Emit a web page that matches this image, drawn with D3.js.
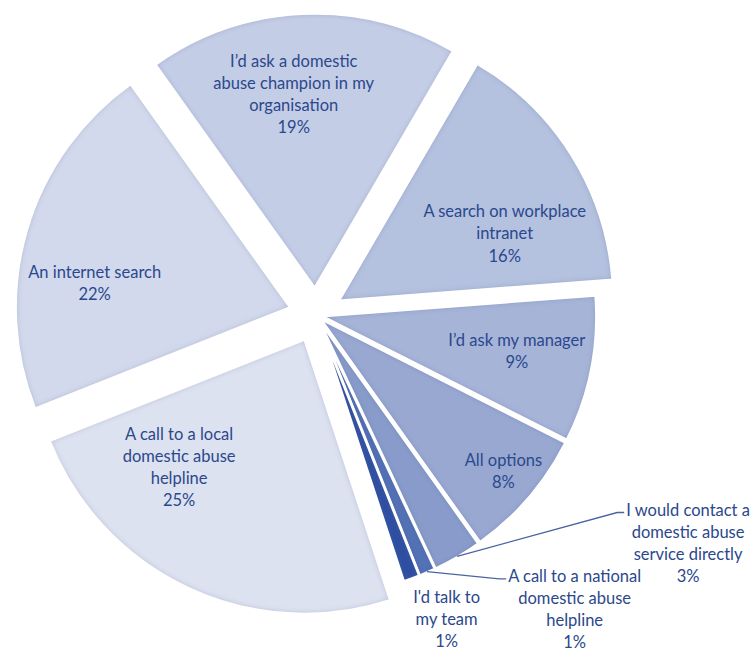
<!DOCTYPE html>
<html>
<head>
<meta charset="utf-8">
<script src="https://cdn.jsdelivr.net/npm/d3@7"></script>
<style>
  html, body { margin: 0; padding: 0; background: #ffffff; }
  svg { display: block; }
  text { font-family: Lato, "Open Sans", sans-serif; fill: #2b488c; }
</style>
</head>
<body>
<svg id="chart" width="751" height="652"></svg>
<script>
// Where people would look for help (share of responses, %)
const categories = [
  "A call to a local domestic abuse helpline",
  "An internet search",
  "I'd ask a domestic abuse champion in my organisation",
  "A search on workplace intranet",
  "I'd ask my manager",
  "All options",
  "I would contact a domestic abuse service directly",
  "A call to a national domestic abuse helpline",
  "I'd talk to my team"
];
const values = [25, 22, 19, 16, 9, 8, 3, 1, 1];
const labelLines = [
  ["A call to a local", "domestic abuse", "helpline"],
  ["An internet search"],
  ["I\u2019d ask a domestic", "abuse champion in my", "organisation"],
  ["A search on workplace", "intranet"],
  ["I\u2019d ask my manager"],
  ["All options"],
  ["I would contact a", "domestic abuse", "service directly"],
  ["A call to a national", "domestic abuse", "helpline"],
  ["I'd talk to", "my team"]
];

// Monochrome blue shades, lightest for the largest slice
const colors = ["#dde2f0", "#d2d9ec", "#c4cde6", "#b4c1df", "#a6b4d8", "#98a8d1", "#889bca", "#5371b6", "#2d4fa1"];

// Layout
const cx = 316, cy = 315, R = 274.5;
const explode = [27, 27, 27, 27, 6, 6, 6, 6, 6];
// label anchor: [distance from slice apex, angle in degrees]
const labelPolar = [
  [179, 224.5], [197, 277.2], [195, -6.2], [179, 67.9], [198, 100.1],
  [238, 129.8], [431, 121.1], [386, 138.4], [325, 156.7]
];
const withLeader = [false, false, false, false, false, false, true, true, false];
const lineH = 22.2;

const svg = d3.select("#chart");
const defs = svg.append("defs");
const f = defs.append("filter").attr("id", "innerShade")
  .attr("x", "-10%").attr("y", "-10%").attr("width", "120%").attr("height", "120%");
f.append("feFlood").attr("flood-color", "#425b9b").attr("result", "c");
f.append("feComposite").attr("in", "c").attr("in2", "SourceAlpha").attr("operator", "out").attr("result", "inv");
f.append("feGaussianBlur").attr("in", "inv").attr("stdDeviation", 3).attr("result", "blur");
f.append("feComposite").attr("in", "blur").attr("in2", "SourceAlpha").attr("operator", "in").attr("result", "sh");
f.append("feComponentTransfer").attr("in", "sh").attr("result", "shf")
  .append("feFuncA").attr("type", "linear").attr("slope", 0.5);
const m = f.append("feMerge");
m.append("feMergeNode").attr("in", "SourceGraphic");
m.append("feMergeNode").attr("in", "shf");

const rad = Math.PI / 180;
const startDeg = 161.8;
const pie = d3.pie().sort(null).value(d => d)
  .startAngle(startDeg * rad).endAngle((startDeg + 360) * rad);
const arcs = pie(values);
const arc = d3.arc().innerRadius(0).outerRadius(R);

const g = svg.append("g").attr("transform", `translate(${cx},${cy})`);

arcs.forEach((a, i) => {
  const mid = (a.startAngle + a.endAngle) / 2;
  const ox = explode[i] * Math.sin(mid), oy = -explode[i] * Math.cos(mid);
  const sg = g.append("g").attr("transform", `translate(${ox},${oy})`);
  sg.append("path").attr("d", arc(a)).attr("fill", colors[i]).attr("filter", "url(#innerShade)");
  sg.append("path").attr("d", arc(a)).attr("fill", "none")
    .attr("stroke", "#ffffff").attr("stroke-width", 2.6).attr("stroke-linejoin", "round");

  // data label
  const [dist, angDeg] = labelPolar[i];
  const lx = ox + dist * Math.sin(angDeg * rad);
  const ly = oy - dist * Math.cos(angDeg * rad);
  const lines = labelLines[i].concat([values[i] + "%"]);
  const y0 = ly - (lines.length - 1) / 2 * lineH;
  const t = g.append("text").attr("text-anchor", "middle").attr("font-size", 16.5);
  lines.forEach((s, k) => {
    t.append("tspan").attr("x", lx).attr("y", y0 + k * lineH).attr("dominant-baseline", "central").text(s);
  });

  if (withLeader[i]) {
    const bb = t.node().getBBox();
    const sx = ox + (R - 1) * Math.sin(mid), sy = oy - (R - 1) * Math.cos(mid);
    const ex = bb.x - 2, ey = y0 + 3;
    g.append("polyline")
      .attr("points", [[sx, sy], [ex - 7, ey], [ex, ey]].map(p => p.join(",")).join(" "))
      .attr("fill", "none").attr("stroke", "#4a64a3").attr("stroke-width", 1.3);
  }
});
</script>
</body>
</html>
